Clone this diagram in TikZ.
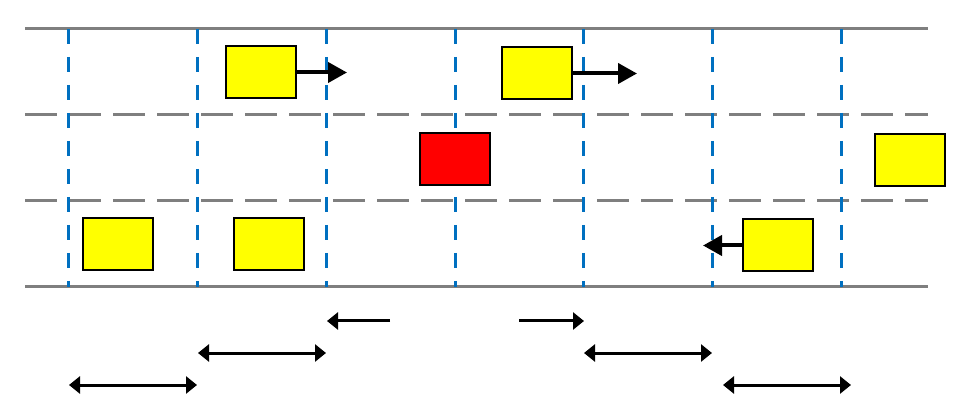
\documentclass[tikz,border=0pt]{standalone}
\usepackage{tikz}
\usetikzlibrary{arrows.meta}
\definecolor{lanegray}{RGB}{127,127,127}
\definecolor{cellblue}{RGB}{0,112,192}
\definecolor{caryellow}{RGB}{255,255,0}
\definecolor{carred}{RGB}{255,0,0}

\begin{document}
\begin{tikzpicture}[x=1pt,y=-1pt,
    car/.style={draw,line width=2pt,minimum width=70pt,minimum height=52pt,inner sep=0pt,fill=caryellow},
    roadedge/.style={lanegray,line width=3pt},
    lanemark/.style={lanegray,line width=3pt,dash pattern=on 32pt off 12pt},
    cellmark/.style={cellblue,line width=3pt,dash pattern=on 15pt off 13pt},
    carmove/.style={-{Triangle[width=20pt,length=19pt]},line width=4pt},
    gapspan/.style={line width=3pt,{Triangle[width=17pt,length=11pt]}-{Triangle[width=17pt,length=11pt]}},
    gaphalf/.style={line width=3pt,-{Triangle[width=17pt,length=11pt]}}]
    \useasboundingbox (0,0) rectangle (963,419);
    % road
    \draw[roadedge] (25,29) -- (928,29);
    \draw[roadedge] (25,287) -- (928,287);
    \draw[lanemark] (25,115) -- (928,115);
    \draw[lanemark] (25,201) -- (928,201);
    \foreach \x in {68,197,326,455,583,712,841}
      \draw[cellmark] (\x,29) -- (\x,287);
    % cars
    \node[car] (c1) at (261,72.5) {};
    \node[car] (c2) at (537,73.5) {};
    \node[car,fill=carred] (ego) at (454.5,159.5) {};
    \node[car] (c3) at (909.5,160) {};
    \node[car] (c4) at (118,244) {};
    \node[car] (c5) at (268.5,244.5) {};
    \node[car] (c6) at (778,245.5) {};
    \coordinate (m1) at (347,72.5);
    \coordinate (m2) at (637,73.5);
    \coordinate (m6) at (703,245.5);
    \draw[carmove] (c1.east) -- (m1);
    \draw[carmove] (c2.east) -- (m2);
    \draw[carmove] (c6.west) -- (m6);
    % gaps
    \coordinate (r1a) at (390,321);  \coordinate (r1b) at (327,321);
    \coordinate (r1c) at (519,321);  \coordinate (r1d) at (584,321);
    \coordinate (r2a) at (198,353);  \coordinate (r2b) at (326,353);
    \coordinate (r2c) at (584,353);  \coordinate (r2d) at (712,353);
    \coordinate (r3a) at (69,385);   \coordinate (r3b) at (197,385);
    \coordinate (r3c) at (723,385);  \coordinate (r3d) at (851,385);
    \draw[gaphalf] (r1a) -- (r1b);
    \draw[gaphalf] (r1c) -- (r1d);
    \draw[gapspan] (r2a) -- (r2b);
    \draw[gapspan] (r2c) -- (r2d);
    \draw[gapspan] (r3a) -- (r3b);
    \draw[gapspan] (r3c) -- (r3d);
\end{tikzpicture}
\end{document}
